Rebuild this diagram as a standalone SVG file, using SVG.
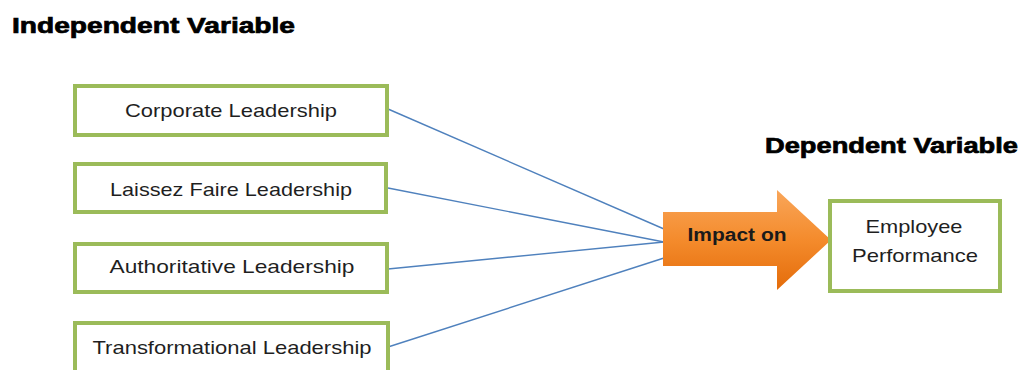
<svg xmlns="http://www.w3.org/2000/svg" width="1026" height="370" viewBox="0 0 1026 370">
<defs>
<style>
.box{fill:#fff;stroke:#9bbb59;stroke-width:4}
.lbl{font-family:"Liberation Sans",Arial,sans-serif;font-size:19px;fill:#1f1f1f;text-anchor:middle}
.hdr{font-family:"Liberation Sans",Arial,sans-serif;font-size:22px;font-weight:bold;fill:#000;stroke:#000;stroke-width:0.7}
.con{stroke:#4f81bd;stroke-width:1.4;fill:none}
</style>
<linearGradient id="org" x1="0" y1="0" x2="0" y2="1">
<stop offset="0" stop-color="#f9a65a"/>
<stop offset="0.5" stop-color="#f48b2c"/>
<stop offset="1" stop-color="#e46c0a"/>
</linearGradient>
</defs>
<rect width="1026" height="370" fill="#fff"/>
<text class="hdr" x="12" y="33" textLength="283" lengthAdjust="spacingAndGlyphs">Independent Variable</text>
<text class="hdr" x="765" y="153" textLength="253" lengthAdjust="spacingAndGlyphs">Dependent Variable</text>
<g id="connectors">
<line class="con" x1="388" y1="109" x2="664" y2="229"/>
<line class="con" x1="388" y1="188" x2="664" y2="242"/>
<line class="con" x1="388" y1="269" x2="664" y2="242"/>
<line class="con" x1="388" y1="347" x2="664" y2="258"/>
</g>
<g id="n1">
<rect class="box" x="75" y="86" width="312" height="49"/>
<text class="lbl" x="231" y="117" textLength="212" lengthAdjust="spacingAndGlyphs">Corporate Leadership</text>
</g>
<g id="n2">
<rect class="box" x="75" y="164" width="311" height="48"/>
<text class="lbl" x="231" y="196" textLength="242" lengthAdjust="spacingAndGlyphs">Laissez Faire Leadership</text>
</g>
<g id="n3">
<rect class="box" x="75" y="244" width="312" height="48"/>
<text class="lbl" x="232" y="273" textLength="245" lengthAdjust="spacingAndGlyphs">Authoritative Leadership</text>
</g>
<g id="n4">
<rect class="box" x="75" y="323" width="313" height="50"/>
<text class="lbl" x="232" y="354" textLength="279" lengthAdjust="spacingAndGlyphs">Transformational Leadership</text>
</g>
<g id="arrow">
<polygon points="663,212 777,212 777,190 831,240 777,290 777,266 663,266" fill="url(#org)"/>
<text x="737" y="241" font-family="'Liberation Sans',Arial,sans-serif" font-size="18" font-weight="bold" fill="#1a1a1a" text-anchor="middle" textLength="99" lengthAdjust="spacingAndGlyphs">Impact on</text>
</g>
<g id="n5">
<rect class="box" x="830" y="201" width="170" height="90"/>
<text class="lbl" x="914" y="233" textLength="97" lengthAdjust="spacingAndGlyphs">Employee</text>
<text class="lbl" x="915" y="262" textLength="126" lengthAdjust="spacingAndGlyphs">Performance</text>
</g>
</svg>
